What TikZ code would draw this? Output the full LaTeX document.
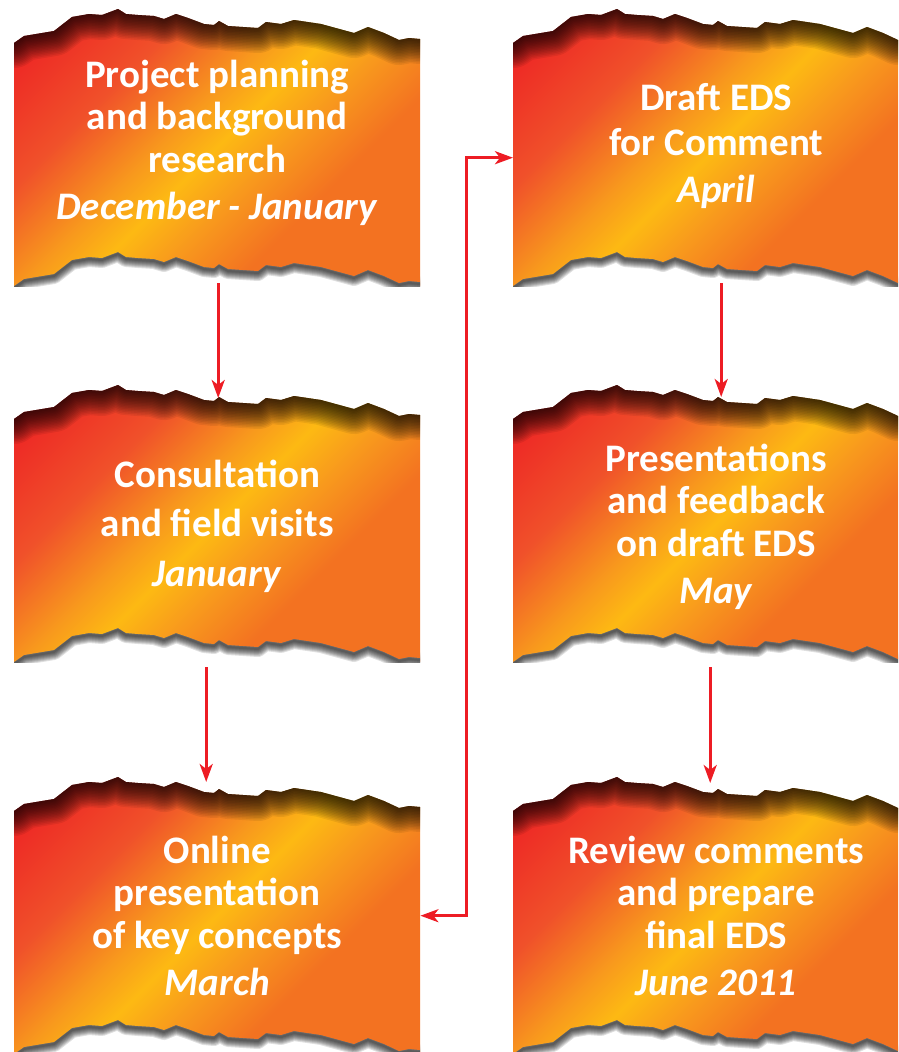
\documentclass[tikz,border=0pt]{standalone}
\usepackage{fontspec}
\setmainfont{Carlito}
\usepackage{tikz}
\usetikzlibrary{arrows.meta,calc}

\definecolor{tornred}{HTML}{ED2224}
\definecolor{tornredorange}{HTML}{F0512A}
\definecolor{tornamber}{HTML}{F8991D}
\definecolor{tornyellow}{HTML}{FDB913}
\definecolor{tornorange}{HTML}{F37221}
\definecolor{arrowred}{HTML}{ED1C24}
\pgfdeclarehorizontalshading{tornfill}{100bp}{color(0bp)=(tornred); color(18bp)=(tornred); color(33bp)=(tornredorange); color(44bp)=(tornamber); color(50bp)=(tornyellow); color(57bp)=(tornamber); color(66bp)=(tornorange); color(100bp)=(tornorange)}

\def\tornpts{0/0,10/-7,40/-12,58/-26,75/-29,88/-28,104/-34,112/-29,124/-28,140/-27,150/-24,162/-29,174/-25,190/-19,200/-18,205/-22,214/-17,244/-15,252/-21,267/-19,280/-23,307/-19,340/-10,354/-16,370/-10,385/-3,395/-5,406/-4}
\def\tornrev{406/-4,395/-5,385/-3,370/-10,354/-16,340/-10,307/-19,280/-23,267/-19,252/-21,244/-15,214/-17,205/-22,200/-18,190/-19,174/-25,162/-29,150/-24,140/-27,124/-28,112/-29,104/-34,88/-28,75/-29,58/-26,40/-12,10/-7,0/0}
\def\tornoutline{(0,0) \foreach \px/\py in \tornpts {-- (\px,\py)} -- (406,243) \foreach \px/\py in \tornrev {-- (\px,\py+243)} -- cycle}

\newcommand\tornpaper[1]{%
  \begin{scope}[shift={(#1.north west)}]
    \begin{scope}
      \clip (0,150) rectangle (406,243);
      \foreach \w in {2,4,...,16}
        \draw[black, opacity=.12, line width=\w pt, line join=round] (-20,245) \foreach \px/\py in \tornpts {-- (\px,\py+245)} -- (426,241);
    \end{scope}
    \shade[shading=tornfill, shading angle=-45] \tornoutline;
    \begin{scope}
      \clip \tornoutline;
      \foreach \w in {2,5,...,50}
        \draw[black, opacity=.07, line width=\w pt, line join=round] (-20,0) \foreach \px/\py in \tornpts {-- (\px,\py)} -- (426,-4);
    \end{scope}
  \end{scope}}

\begin{document}
\begin{tikzpicture}[x=1pt,y=-1pt]
  \tikzset{
    tornframe/.style={minimum width=406pt, minimum height=243pt, inner sep=0pt, anchor=north west},
    torntext/.style={text=white, align=center, inner sep=0pt, font=\fontsize{39}{42.5}\selectfont\bfseries},
    flowarrow/.style={draw=arrowred, line width=3pt, -{Stealth[length=18pt,width=13pt,inset=5pt]}}
  }
  \useasboundingbox (0,0) rectangle (898,1052);
  \clip (0,0) rectangle (898,1052);

  \coordinate (colA) at (14,43);
  \coordinate (colB) at (513,43);

  \node[tornframe] (plan) at (colA) {};
  \node[tornframe, yshift=-376pt] (visits) at (colA) {};
  \node[tornframe, yshift=-768pt] (online) at (colA) {};
  \node[tornframe] (draft) at (colB) {};
  \node[tornframe, yshift=-376pt] (feedback) at (colB) {};
  \node[tornframe, yshift=-768pt] (review) at (colB) {};

  \tornpaper{plan}
  \tornpaper{visits}
  \tornpaper{online}
  \tornpaper{draft}
  \tornpaper{feedback}
  \tornpaper{review}

  \node[torntext, yshift=-100pt] (plantext) at (plan.north)
    {Project planning\\and background\\research\\[5pt]\textit{December - January}};
  \node[torntext, yshift=-107pt] (visitstext) at (visits.north)
    {Consultation\\[7pt]and field visits\\[7pt]\textit{January}};
  \node[torntext, yshift=-105pt] (onlinetext) at (online.north)
    {Online\\presentation\\of key concepts\\[5pt]\textit{March}};
  \node[torntext, yshift=-103pt] (drafttext) at (draft.north)
    {Draft EDS\\[2.5pt]for Comment\\[4.5pt]\textit{April}};
  \node[torntext, yshift=-108pt] (feedbacktext) at (feedback.north)
    {Presentations\\and feedback\\on draft EDS\\[5pt]\textit{May}};
  \node[torntext, yshift=-105pt] (reviewtext) at (review.north)
    {Review comments\\and prepare\\final EDS\\[5pt]\textit{June 2011}};

  \draw[flowarrow] ([xshift=1pt,yshift=3pt]plan.south) -- ([xshift=1pt,yshift=21pt]visits.north);
  \draw[flowarrow] ([xshift=-11pt,yshift=-5pt]visits.south) -- ([xshift=-11pt,yshift=29pt]online.north);
  \draw[flowarrow] ([xshift=5pt,yshift=3pt]draft.south) -- ([xshift=5pt,yshift=22pt]feedback.north);
  \draw[flowarrow] ([xshift=-6pt,yshift=-5pt]feedback.south) -- ([xshift=-6pt,yshift=28pt]review.north);
  \draw[flowarrow, {Stealth[length=18pt,width=13pt,inset=5pt]}-{Stealth[length=18pt,width=13pt,inset=5pt]}]
    ([yshift=17pt]online.east) -- ++(46,0) |- ([yshift=7pt]draft.west);
\end{tikzpicture}
\end{document}
